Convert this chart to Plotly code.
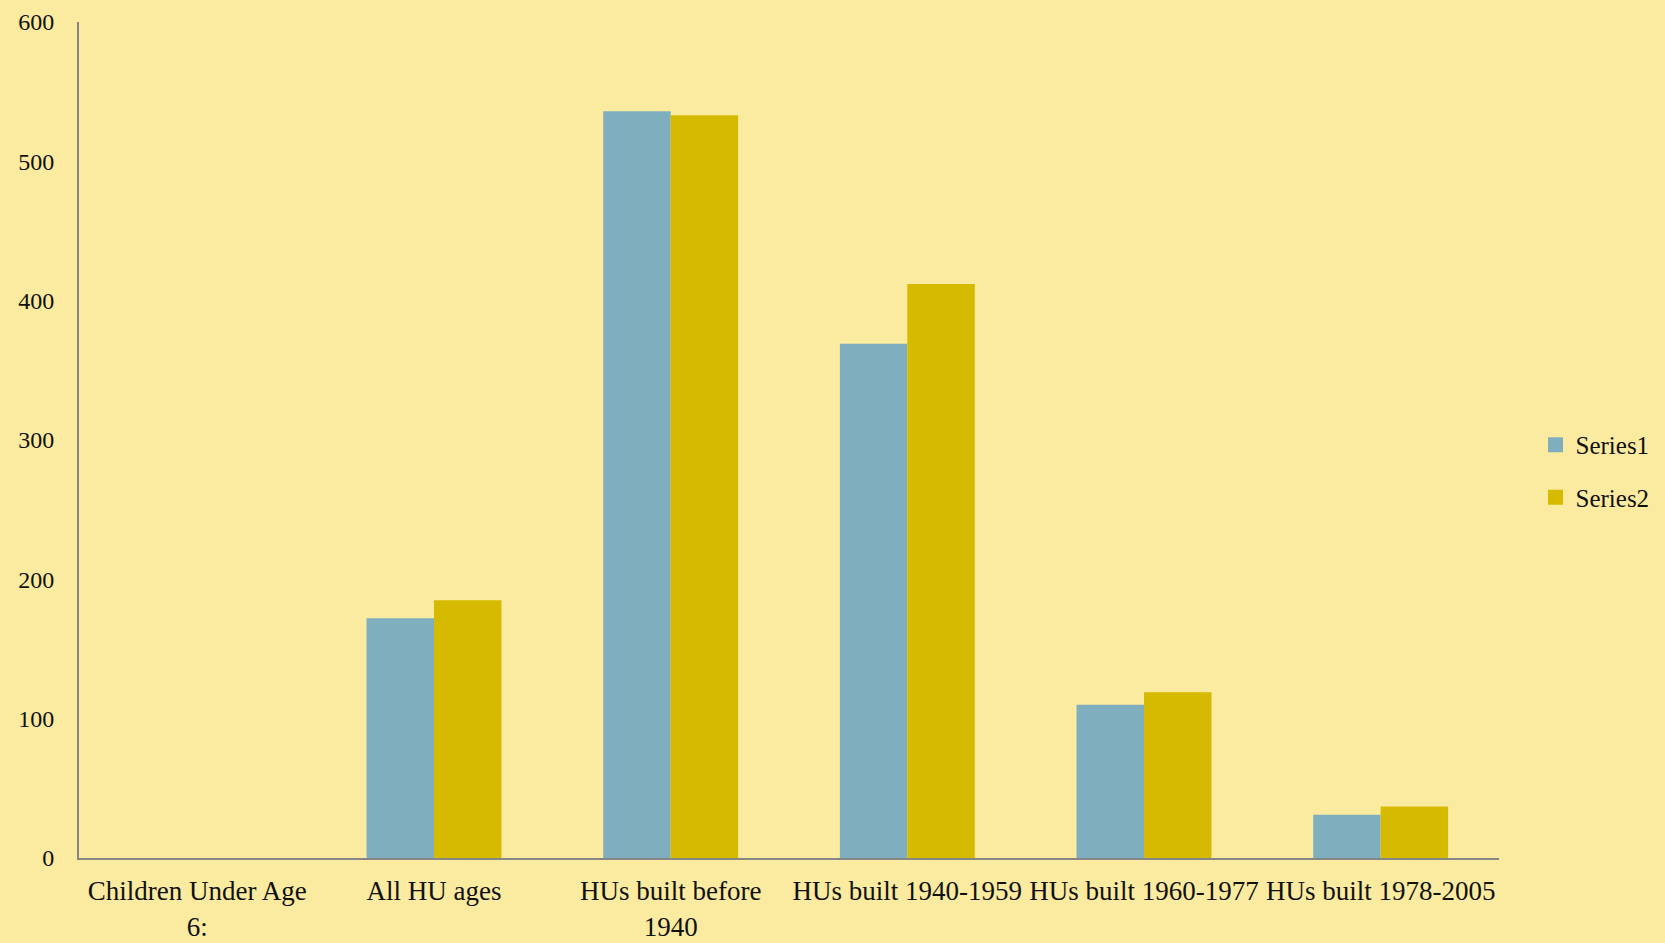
import plotly.graph_objects as go

categories = ["Children Under Age<br>6:", "All HU ages", "HUs built before<br>1940",
              "HUs built 1940-1959", "HUs built 1960-1977", "HUs built 1978-2005"]
series1 = [None, 172, 536, 369, 110, 31]
series2 = [None, 185, 533, 412, 119, 37]
series_names = ["Series1", "Series2"]
y_ticks = [0, 100, 200, 300, 400, 500, 600]

BG = "#FAEBA0"
FONT = "Liberation Serif"
COLORS = ["#7FAFBF", "#D6BA00"]

fig = go.Figure()
for name, vals, col, grp in zip(series_names, [series1, series2], COLORS, ["a", "b"]):
    fig.add_trace(go.Bar(name=name, x=categories, y=vals, marker_color=col,
                         marker_line_width=0, showlegend=False, legendgroup=grp))
    fig.add_trace(go.Scatter(name=name, x=[None], y=[None], mode="markers",
                             marker=dict(symbol="square", size=15, color=col),
                             legendgroup=grp, showlegend=True))

fig.update_layout(
    width=1665, height=943,
    paper_bgcolor=BG, plot_bgcolor=BG,
    margin=dict(l=79, r=165, t=22, b=85),
    barmode="group", bargap=0.43, bargroupgap=0,
    font=dict(family=FONT, color="#111111", size=27),
    legend=dict(x=1.025, xanchor="left", y=0.463, yanchor="middle",
                font=dict(size=25), tracegroupgap=17, bgcolor="rgba(0,0,0,0)",
                itemwidth=30),
    xaxis=dict(showline=True, linecolor="#868686", linewidth=2, showgrid=False,
               ticks="", tickfont=dict(size=27), ticklabelstandoff=8, automargin=False),
    yaxis=dict(range=[0, 600], tickvals=y_ticks, showline=True, linecolor="#868686",
               linewidth=2, showgrid=False, zeroline=False, ticks="",
               tickfont=dict(size=24), ticklabelstandoff=18, automargin=False),
)

fig.write_html("out.html", config={"displayModeBar": False},
               post_script="document.body.style.margin='0';document.body.style.background='" + BG + "';")
